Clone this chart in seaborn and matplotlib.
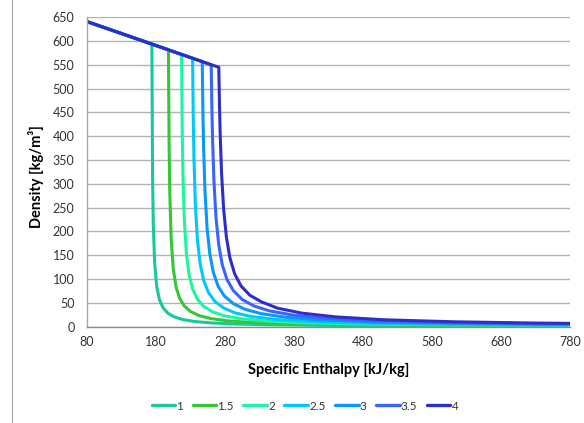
import seaborn as sns
import matplotlib.pyplot as plt
import matplotlib.lines as mlines
import pandas as pd

# pressure levels (legend labels)
levels = ['1', '1.5', '2', '2.5', '3', '3.5', '4']

# specific enthalpy [kJ/kg] and density [kg/m3], one pair per level
h_1 = [80, 174, 175, 176, 178, 181, 185, 190, 197, 206, 219, 236, 259, 294, 344, 414, 514, 634, 780]
rho_1 = [641, 594, 319.1, 218.2, 133.6, 84.5, 56.7, 40.2, 28.5, 20.8, 14.9, 10.9, 8.0, 5.69, 4.03, 2.86, 2.02, 1.50, 1.14]

h_15 = [80, 198, 199, 200, 202, 205, 209, 214, 221, 230, 243, 260, 283, 318, 368, 438, 538, 658, 780]
rho_15 = [641, 582, 377.9, 279.8, 184.2, 121.7, 83.9, 60.4, 43.4, 31.8, 23.0, 16.9, 12.4, 8.84, 6.27, 4.46, 3.15, 2.33, 1.85]

h_2 = [80, 217, 218, 219, 221, 224, 228, 233, 240, 249, 262, 279, 302, 337, 387, 457, 557, 677, 780]
rho_2 = [641, 572, 412.5, 322.6, 224.6, 154.3, 108.9, 79.6, 57.8, 42.8, 31.1, 22.9, 16.9, 12.1, 8.57, 6.10, 4.32, 3.20, 2.62]

h_25 = [80, 233, 234, 235, 237, 240, 244, 249, 256, 265, 278, 295, 318, 353, 403, 473, 573, 693, 780]
rho_25 = [641, 564, 434.4, 353.2, 257.1, 182.6, 131.7, 97.7, 71.7, 53.5, 39.1, 28.9, 21.4, 15.3, 10.9, 7.77, 5.51, 4.08, 3.43]

h_3 = [80, 247, 248, 249, 251, 254, 258, 263, 270, 279, 292, 309, 332, 367, 417, 487, 587, 707, 780]
rho_3 = [641, 557, 448.8, 375.8, 283.5, 207.2, 152.5, 114.6, 85.1, 64.5, 48.5, 36.5, 27.5, 20.0, 14.3, 10.2, 7.3, 5.5, 4.8]

h_35 = [80, 260, 261, 262, 264, 267, 271, 276, 283, 292, 305, 322, 345, 380, 430, 500, 600, 720, 780]
rho_35 = [641, 550, 457.9, 392.2, 304.7, 228.3, 171.1, 130.3, 98.5, 76.0, 57.0, 43.5, 33.0, 24.0, 17.0, 12.2, 8.6, 6.4, 5.8]

h_4 = [80, 271, 272, 273, 275, 278, 282, 287, 294, 303, 316, 333, 356, 391, 441, 511, 611, 731, 780]
rho_4 = [641, 545, 464.9, 405.4, 322.7, 247.1, 188.3, 145.1, 111.0, 86.0, 66.0, 52.0, 39.0, 28.5, 20.5, 14.5, 10.3, 7.6, 7.0]

x_ticks = [80, 180, 280, 380, 480, 580, 680, 780]
y_ticks = list(range(0, 651, 50))

line_colors = ['#14c99c', '#33c736', '#1ef5a0', '#00c8ff', '#0a96ff', '#3a63ff', '#2e2ec6']

sns.set_style('white')
plt.rcParams['font.family'] = ['Lato', 'DejaVu Sans']

frames = []
for lab, h, r in zip(levels, [h_1, h_15, h_2, h_25, h_3, h_35, h_4],
                     [rho_1, rho_15, rho_2, rho_25, rho_3, rho_35, rho_4]):
    frames.append(pd.DataFrame({'h': h, 'rho': r, 'p': lab}))
df = pd.concat(frames, ignore_index=True)

fig = plt.figure(figsize=(5.84, 4.23), dpi=100)
ax = fig.add_axes([0.149, 0.2277, 0.827, 0.7314])

ax.set_axisbelow(True)
ax.yaxis.grid(True, color='#b3b3b3', linewidth=1.0)
ax.xaxis.grid(False)

sns.lineplot(data=df, x='h', y='rho', hue='p', hue_order=levels, palette=line_colors,
             sort=False, estimator=None, linewidth=2.2, ax=ax, legend=False)

ax.set_xlim(80, 780)
ax.set_ylim(0, 650)
ax.set_xticks(x_ticks)
ax.set_yticks(y_ticks)
ax.tick_params(axis='both', length=0, labelsize=9, colors='#333333')
ax.tick_params(axis='x', pad=7)
ax.tick_params(axis='y', pad=9)
ax.set_xlabel('')
ax.set_ylabel('')

for s in ['top', 'right']:
    ax.spines[s].set_visible(False)
ax.spines['left'].set_color('#a6a6a6')
ax.spines['bottom'].set_color('#8c8c8c')
ax.spines['left'].set_linewidth(1.0)
ax.spines['bottom'].set_linewidth(1.0)

fig.text(0.5625, 1 - 370 / 423, 'Specific Enthalpy [kJ/kg]', ha='center', va='center',
         fontsize=10.5, fontweight='bold', color='black')
fig.text(36 / 584, 1 - 177 / 423, 'Density [kg/m³]', ha='center', va='center',
         rotation=90, fontsize=10.5, fontweight='bold', color='black')

handles = [mlines.Line2D([], [], color=c, linewidth=2.4) for c in line_colors]
fig.legend(handles, levels, loc='center', bbox_to_anchor=(305 / 584, 1 - 406 / 423), ncol=7,
           frameon=False, fontsize=8.5, handlelength=2.0, handletextpad=0.1, columnspacing=0.8,
           labelcolor='#333333')

# chart-area border, left edge only visible in the crop
fig.add_artist(mlines.Line2D([11.5 / 584, 11.5 / 584], [0, 1], transform=fig.transFigure,
                             color='#a6a6a6', linewidth=0.8))

fig.savefig('out.png', dpi=100)
